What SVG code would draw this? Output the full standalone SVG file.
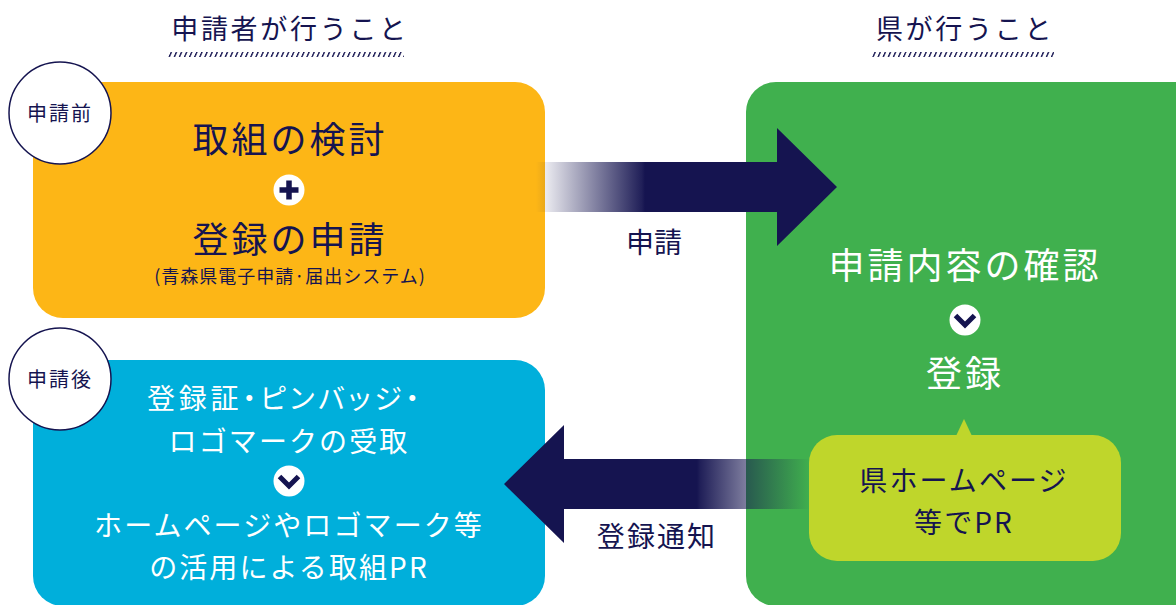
<svg xmlns="http://www.w3.org/2000/svg" width="1176" height="605" viewBox="0 0 1176 605">
<style>
text{font-family:"Noto Sans CJK JP","Noto Sans",sans-serif;text-anchor:middle;fill:#151450;font-weight:400}
.w{fill:#fff}
.h{font-size:27px;letter-spacing:2.700px}
.b{font-size:36px;letter-spacing:3px}
.l{font-size:28px;letter-spacing:2.100px}
.s{font-size:20px;letter-spacing:2px}
.t{font-size:18px;letter-spacing:1px}
.ic{fill:#fff}
.ch{fill:none;stroke:#151450;stroke-width:5}
.badge{fill:#fff;stroke:#151450;stroke-width:1.500}
</style>
<defs>
<pattern id="hp" patternUnits="userSpaceOnUse" x="0" y="52" width="5.100" height="5" patternTransform="skewX(-24)">
<rect x="0" y="0" width="1.500" height="5" fill="#151450"/>
</pattern>
<linearGradient id="gr" gradientUnits="userSpaceOnUse" x1="536" y1="0" x2="645" y2="0">
<stop offset="0" stop-color="#151450" stop-opacity="0"/><stop offset="0.97" stop-color="#151450" stop-opacity="0.95"/><stop offset="1" stop-color="#151450"/>
</linearGradient>
<linearGradient id="gl" gradientUnits="userSpaceOnUse" x1="810" y1="0" x2="697" y2="0">
<stop offset="0" stop-color="#151450" stop-opacity="0"/><stop offset="0.97" stop-color="#151450" stop-opacity="0.95"/><stop offset="1" stop-color="#151450"/>
</linearGradient>
</defs>

<g id="header-applicant">
<text class="h" x="290" y="39">申請者が行うこと</text>
<rect x="168" y="52" width="236" height="5" fill="url(#hp)"/>
</g>
<g id="header-prefecture">
<text class="h" x="965" y="39">県が行うこと</text>
<rect x="871" y="52" width="183" height="5" fill="url(#hp)"/>
</g>

<g id="node-before">
<rect x="33" y="82" width="512" height="236" rx="30" fill="#fdb616"/>
<text class="b" x="290" y="153">取組の検討</text>
<circle class="ic" cx="289" cy="190" r="15.500"/>
<path d="M289 180.500v19M279.500 190h19" stroke="#151450" stroke-width="5.500" fill="none"/>
<text class="b" x="290" y="253">登録の申請</text>
<text class="t" x="290" y="283">(青森県電子申請·届出システム)</text>
</g>
<g id="badge-before">
<circle class="badge" cx="60" cy="113" r="51"/>
<text class="s" x="60" y="121">申請前</text>
</g>

<g id="node-after">
<rect x="33" y="360" width="512" height="246" rx="30" fill="#00afdb"/>
<text class="l w" x="285" y="409" style="font-feature-settings:'palt';letter-spacing:3.700px">登録証・ピンバッジ・</text>
<text class="l w" x="289" y="452">ロゴマークの受取</text>
<circle class="ic" cx="289" cy="481" r="15.500"/>
<path class="ch" d="M279.500 476.500L289 486L298.500 476.500"/>
<text class="l w" x="289" y="536">ホームページやロゴマーク等</text>
<text class="l w" x="289" y="578">の活用による取組PR</text>
</g>
<g id="badge-after">
<circle class="badge" cx="60" cy="379" r="51"/>
<text class="s" x="60" y="387">申請後</text>
</g>

<g id="node-prefecture">
<rect x="746" y="82" width="470" height="524" rx="30" fill="#40b04e"/>
<text class="b w" x="965" y="279">申請内容の確認</text>
<circle class="ic" cx="965" cy="320" r="15.500"/>
<path class="ch" d="M955.500 315.500L965 325L974.500 315.500"/>
<text class="b w" x="965" y="387">登録</text>
</g>

<g id="connectors">
<path d="M536 162H777V128L837 187L777 246V212H536Z" fill="url(#gr)"/>
<path d="M810 459H564V425L504 484L564 543V509H810Z" fill="url(#gl)"/>
<text class="l" x="654" y="253" style="letter-spacing:0">申請</text>
<text class="l" x="657" y="547">登録通知</text>
</g>

<g id="node-pr">
<path d="M964 419L972 436H956Z" fill="#bfd62b"/>
<rect x="809" y="435" width="312" height="126" rx="28" fill="#bfd62b"/>
<text class="l" x="964" y="491">県ホームページ</text>
<text class="l" x="964" y="533">等でPR</text>
</g>
</svg>
